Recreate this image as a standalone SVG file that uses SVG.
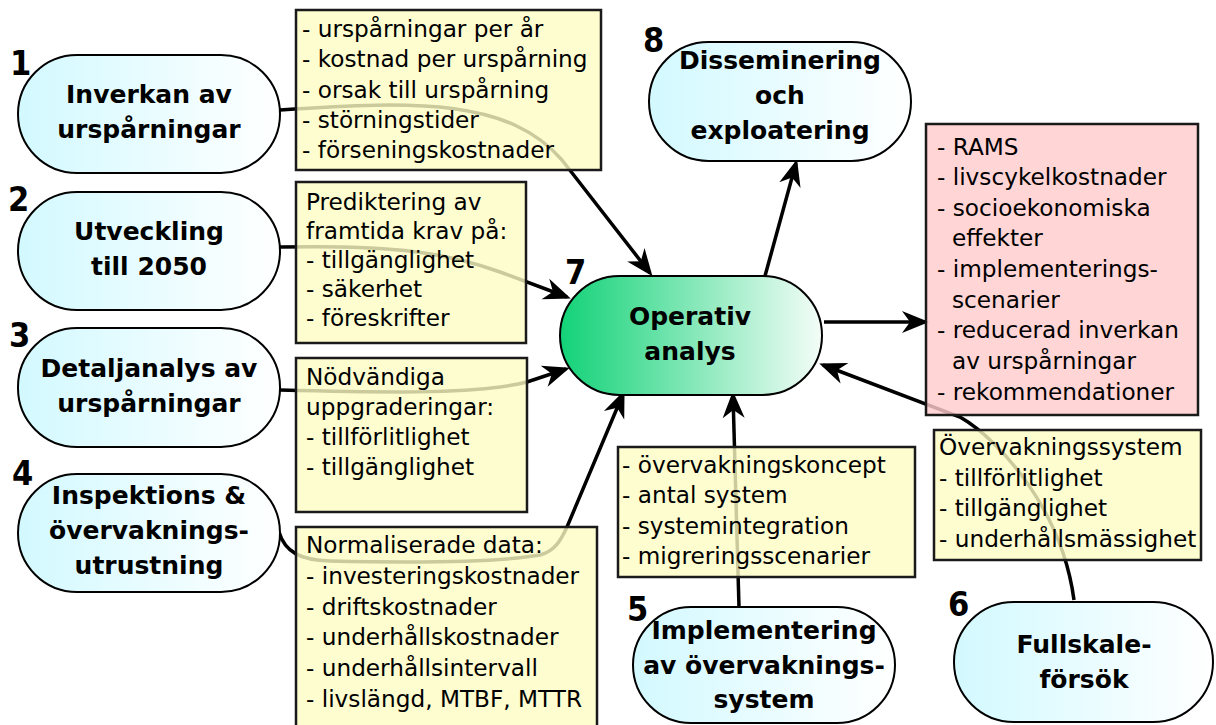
<svg xmlns="http://www.w3.org/2000/svg" width="1216" height="725" viewBox="0 0 1216 725">
<defs>
<linearGradient id="gNode" x1="0" y1="0" x2="1" y2="0">
<stop offset="0" stop-color="#d2f9ff"/>
<stop offset="1" stop-color="#ffffff"/>
</linearGradient>
<linearGradient id="gMain" x1="0" y1="0" x2="1" y2="0">
<stop offset="0" stop-color="#12d277"/>
<stop offset="1" stop-color="#f4fdf8"/>
</linearGradient>
<marker id="arr" markerUnits="userSpaceOnUse" markerWidth="44" markerHeight="44" viewBox="-34 -17 44 34" refX="0" refY="0" orient="auto">
<path d="M4,0 L-23,-11 L-15,0 L-23,11 Z" fill="#000"/>
</marker>
<style>
.node{stroke:#000;stroke-width:2;fill:url(#gNode)}
.main{stroke:#000;stroke-width:2;fill:url(#gMain)}
.nt{font-family:"DejaVu Sans","Liberation Sans",sans-serif;font-weight:bold;font-size:25px;text-anchor:middle;fill:#000}
.num{font-family:"DejaVu Sans Condensed","DejaVu Sans","Liberation Sans",sans-serif;font-weight:bold;font-size:34px;fill:#000}
.box{stroke:#1a1a1a;stroke-width:2.5;fill:#fcfcc4;fill-opacity:0.8}
.rbox{stroke:#1a1a1a;stroke-width:2.5;fill:#ffcccc;fill-opacity:0.82}
.bt{font-family:"DejaVu Sans","Liberation Sans",sans-serif;font-size:23.2px;fill:#000}
.con{fill:none;stroke:#000;stroke-width:3.5}
</style>
</defs>
<rect width="1216" height="725" fill="#fff"/>

<g id="connectors">
<path class="con" marker-end="url(#arr)" d="M280,110 C420,100 510,100 562,160 L650,273"/>
<path class="con" marker-end="url(#arr)" d="M280,247 C380,245 440,250 500,272 L567,297"/>
<path class="con" marker-end="url(#arr)" d="M280,390 C400,393 480,394 527,382 L566,369"/>
<path class="con" marker-end="url(#arr)" d="M279,532 C285,552 300,560 330,561 C420,563 500,562 540,555 C555,551 561,540 567,527 L623,394"/>
<path class="con" marker-end="url(#arr)" d="M739,607 Q736,500 733,395"/>
<path class="con" marker-end="url(#arr)" d="M1074,600 C1062,510 1000,440 960,417 L823,365"/>
<path class="con" marker-end="url(#arr)" d="M765,276 L796,163"/>
<path class="con" marker-end="url(#arr)" d="M824,322 L925,322"/>
</g>

<g id="note1">
<rect class="box" x="296" y="10" width="305" height="160"/>
<text class="bt" x="302" y="37">- urspårningar per år</text>
<text class="bt" x="302" y="67">- kostnad per urspårning</text>
<text class="bt" x="302" y="98">- orsak till urspårning</text>
<text class="bt" x="302" y="128">- störningstider</text>
<text class="bt" x="302" y="158">- förseningskostnader</text>
</g>
<g id="note2">
<rect class="box" x="296" y="182" width="230" height="161"/>
<text class="bt" x="306" y="210">Prediktering av</text>
<text class="bt" x="306" y="239">framtida krav på:</text>
<text class="bt" x="306" y="268">- tillgänglighet</text>
<text class="bt" x="306" y="297">- säkerhet</text>
<text class="bt" x="306" y="326">- föreskrifter</text>
</g>
<g id="note3">
<rect class="box" x="296" y="358" width="231" height="154"/>
<text class="bt" x="306" y="385">Nödvändiga</text>
<text class="bt" x="306" y="415">uppgraderingar:</text>
<text class="bt" x="306" y="445">- tillförlitlighet</text>
<text class="bt" x="306" y="475">- tillgänglighet</text>
</g>
<g id="note4">
<rect class="box" x="296" y="527" width="301" height="210"/>
<text class="bt" x="306" y="553">Normaliserade data:</text>
<text class="bt" x="306" y="584">- investeringskostnader</text>
<text class="bt" x="306" y="615">- driftskostnader</text>
<text class="bt" x="306" y="645">- underhållskostnader</text>
<text class="bt" x="306" y="676">- underhållsintervall</text>
<text class="bt" x="306" y="707">- livslängd, MTBF, MTTR</text>
</g>
<g id="note5">
<rect class="box" x="618" y="447" width="297" height="130"/>
<text class="bt" x="622" y="473">- övervakningskoncept</text>
<text class="bt" x="622" y="503">- antal system</text>
<text class="bt" x="622" y="534">- systemintegration</text>
<text class="bt" x="622" y="564">- migreringsscenarier</text>
</g>
<g id="note6">
<rect class="box" x="934" y="430" width="267" height="130"/>
<text class="bt" x="939" y="455">Övervakningssystem</text>
<text class="bt" x="939" y="486">- tillförlitlighet</text>
<text class="bt" x="939" y="516">- tillgänglighet</text>
<text class="bt" x="939" y="547">- underhållsmässighet</text>
</g>
<g id="results">
<rect class="rbox" x="926" y="124" width="272" height="291"/>
<text class="bt" x="937" y="155">- RAMS</text>
<text class="bt" x="937" y="185">- livscykelkostnader</text>
<text class="bt" x="937" y="216">- socioekonomiska</text>
<text class="bt" x="952" y="246">effekter</text>
<text class="bt" x="937" y="277">- implementerings-</text>
<text class="bt" x="952" y="308">scenarier</text>
<text class="bt" x="937" y="338">- reducerad inverkan</text>
<text class="bt" x="952" y="369">av urspårningar</text>
<text class="bt" x="937" y="400">- rekommendationer</text>
</g>

<g id="node1">
<rect class="node" x="18" y="55" width="262" height="118" rx="59"/>
<text class="num" x="10" y="75">1</text>
<text class="nt" x="149" y="103">Inverkan av</text>
<text class="nt" x="149" y="138">urspårningar</text>
</g>
<g id="node2">
<rect class="node" x="18" y="192" width="262" height="118" rx="59"/>
<text class="num" x="8" y="211">2</text>
<text class="nt" x="149" y="240">Utveckling</text>
<text class="nt" x="149" y="275">till 2050</text>
</g>
<g id="node3">
<rect class="node" x="18" y="328" width="262" height="119" rx="59"/>
<text class="num" x="9" y="347">3</text>
<text class="nt" x="149" y="377">Detaljanalys av</text>
<text class="nt" x="149" y="412">urspårningar</text>
</g>
<g id="node4">
<rect class="node" x="18" y="474" width="262" height="118" rx="59"/>
<text class="num" x="12" y="485">4</text>
<text class="nt" x="149" y="504">Inspektions &amp;</text>
<text class="nt" x="149" y="539">övervaknings-</text>
<text class="nt" x="149" y="574">utrustning</text>
</g>
<g id="node5">
<rect class="node" x="633" y="607" width="262" height="116" rx="58"/>
<text class="num" x="627" y="621">5</text>
<text class="nt" x="764" y="639">Implementering</text>
<text class="nt" x="764" y="674">av övervaknings-</text>
<text class="nt" x="764" y="708">system</text>
</g>
<g id="node6">
<rect class="node" x="954" y="602" width="259" height="120" rx="60"/>
<text class="num" x="948" y="616">6</text>
<text class="nt" x="1084" y="653">Fullskale-</text>
<text class="nt" x="1084" y="688">försök</text>
</g>
<g id="node7">
<rect class="main" x="560" y="276" width="262" height="119" rx="59.5"/>
<text class="num" x="565" y="284">7</text>
<text class="nt" x="690" y="325">Operativ</text>
<text class="nt" x="690" y="360">analys</text>
</g>
<g id="node8">
<rect class="node" x="649" y="42" width="262" height="119" rx="59.5"/>
<text class="num" x="643" y="52">8</text>
<text class="nt" x="780" y="69">Disseminering</text>
<text class="nt" x="780" y="104">och</text>
<text class="nt" x="780" y="139">exploatering</text>
</g>
</svg>
